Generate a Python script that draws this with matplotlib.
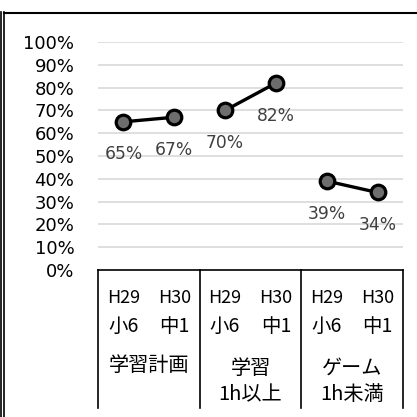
import matplotlib.pyplot as plt
from matplotlib.lines import Line2D
import matplotlib.transforms as mtransforms

plt.rcParams['font.family'] = ['DejaVu Sans', 'Noto Sans CJK JP']
CJK = ['Noto Sans CJK JP', 'DejaVu Sans']

# data
years = ['H29', 'H30', 'H29', 'H30', 'H29', 'H30']
grades = ['小6', '中1', '小6', '中1', '小6', '中1']
groups = [['学習計画'], ['学習', '1h以上'], ['ゲーム', '1h未満']]
values = [0.65, 0.67, 0.70, 0.82, 0.39, 0.34]
yticks = [i / 10 for i in range(11)]

fig = plt.figure(figsize=(4.17, 4.17), dpi=100)
ax = fig.add_axes([98 / 417, 1 - 270 / 417, 305 / 417, 228 / 417])

# gridlines
for t in yticks[1:]:
    ax.axhline(t, color='#d9d9d9', lw=1.2, zorder=0)

# series: one line per group
for g in range(3):
    xs = [2 * g, 2 * g + 1]
    ys = values[2 * g:2 * g + 2]
    ax.plot(xs, ys, color='black', lw=2.4, marker='o', ms=10.5,
            mfc='#6d6d6d', mec='black', mew=2.3, zorder=3)
    for x, y in zip(xs, ys):
        ax.annotate('{:.0f}%'.format(y * 100), (x, y), xytext=(0, -23.5),
                    textcoords='offset points', ha='center', va='center',
                    fontsize=12.3, color='#404040')

ax.set_xlim(-0.5, 5.5)
ax.set_ylim(0, 1)
ax.set_yticks(yticks)
ax.set_yticklabels(['{:.0f}%'.format(t * 100) for t in yticks], fontsize=13)
ax.tick_params(axis='y', length=0, pad=17)
ax.set_xticks([])
for s in ['left', 'right', 'top']:
    ax.spines[s].set_visible(False)
ax.spines['bottom'].set_color('black')
ax.spines['bottom'].set_linewidth(1.2)

# multi-level category axis
tr = mtransforms.blended_transform_factory(ax.transData, ax.transAxes)
for xb in [-0.5, 1.5, 3.5, 5.5]:
    ax.add_line(Line2D([xb, xb], [0, -0.605], transform=tr, color='black',
                       lw=1.2, clip_on=False))
for i in range(6):
    ax.text(i, -0.123, years[i], transform=tr, ha='center', va='center',
            fontsize=13, family=CJK)
    ax.text(i, -0.248, grades[i], transform=tr, ha='center', va='center',
            fontsize=14, family=CJK)
for g, lab in enumerate(groups):
    if len(lab) == 1:
        ax.text(2 * g + 0.5, -0.421, lab[0], transform=tr, ha='center',
                va='center', fontsize=14.5, family=CJK)
    else:
        ax.text(2 * g + 0.5, -0.43, lab[0], transform=tr, ha='center',
                va='center', fontsize=14.5, family=CJK)
        ax.text(2 * g + 0.5, -0.548, lab[1], transform=tr, ha='center',
                va='center', fontsize=14.5, family=CJK)

# chart border
fig.add_artist(Line2D([4 / 417, 1], [1 - 13 / 417, 1 - 13 / 417], color='black', lw=1.5))
fig.add_artist(Line2D([1 / 417, 1 / 417], [0, 1 - 12 / 417], color='black', lw=1.2))
fig.add_artist(Line2D([4 / 417, 4 / 417], [0, 1 - 12 / 417], color='black', lw=1.2))

fig.savefig('out.png', dpi=100)
